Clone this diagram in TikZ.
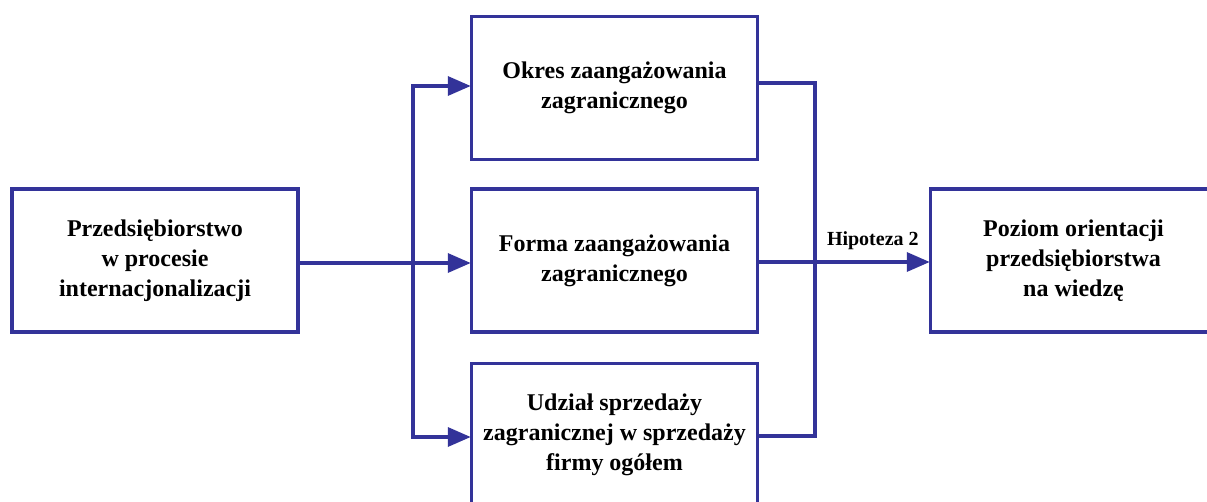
\documentclass[tikz,border=0pt]{standalone}
\usepackage{fontspec}
\setmainfont{Liberation Serif}
\usetikzlibrary{arrows.meta,calc}
\definecolor{frameblue}{RGB}{51,51,153}
\begin{document}
\begin{tikzpicture}[x=1pt,y=-1pt,
  box/.style={draw=frameblue, line width=3.5pt, fill=white, align=center,
    minimum width=286pt, minimum height=143pt, inner sep=0pt,
    font=\fontsize{24}{30}\selectfont\bfseries},
  conn/.style={draw=frameblue, line width=3.5pt},
  arr/.style={conn, -{Triangle[length=23pt,width=19pt]}, shorten >=-1pt},
  lbl/.style={font=\fontsize{20}{24}\selectfont\bfseries, inner sep=0pt}]
\useasboundingbox (0,0) rectangle (1207,501);
\clip (0,0) rectangle (1207,501);

% boxes
\node[box] (L) at (155,260.5) {Przedsiębiorstwo\\w procesie\\internacjonalizacji};
\node[box] (T) at (614.5,88) {Okres zaangażowania\\zagranicznego};
\node[box] (M) at (614.5,260.5) {Forma zaangażowania\\zagranicznego};
\node[box] (B) at (614.5,435) {Udział sprzedaży\\zagranicznej w sprzedaży\\firmy ogółem};
\node[box] (R) at (1073.5,260.5) {Poziom orientacji\\przedsiębiorstwa\\na wiedzę};

% branching connector on the left
\coordinate (split) at (413,263);
\coordinate (splitT) at (413,86);
\coordinate (splitB) at (413,437);
\draw[conn, line cap=rect] (splitT) -- (splitB);
\draw[arr] (L.east |- split) -- (M.west |- split);
\draw[arr] (splitT) -- (T.west |- splitT);
\draw[arr] (splitB) -- (B.west |- splitB);

% collecting connector on the right
\coordinate (joinT) at (815,83);
\coordinate (joinB) at (815,436);
\coordinate (joinM) at (815,262);
\draw[conn, line join=miter] (T.east |- joinT) -- (joinT) -- (joinB) -- (B.east |- joinB);
\draw[arr] (M.east |- joinM) -- (R.west |- joinM)
  node[lbl, pos=0.67, above=10pt] (H) {Hipoteza 2};
\end{tikzpicture}
\end{document}
